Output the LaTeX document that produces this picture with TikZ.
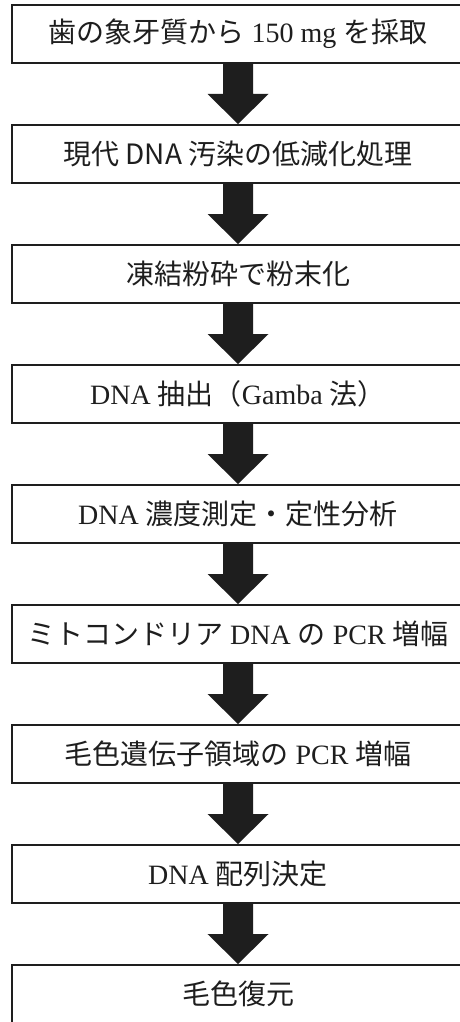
\documentclass[tikz,border=0pt]{standalone}
\usepackage{fontspec}
\setmainfont{Liberation Serif}
\newfontfamily\jp{Noto Sans CJK JP}
\usetikzlibrary{calc}
\definecolor{ink}{HTML}{1E1E1E}
\tikzset{
  stepbox/.style={draw=ink, line width=2pt, rectangle, minimum width=452pt, minimum height=58pt,
    inner sep=0pt, font=\fontsize{28}{34}\selectfont, text=ink},
  bigarrow/.style={fill=ink}
}
\newcommand\flowarrow[2]{%
  \fill[bigarrow] ($(#1.south)+(-15,0)$) -- ($(#1.south)+(15,0)$)
    -- ($($(#1.south)!0.5!(#2.north)$)+(15,0)$)
    -- ($($(#1.south)!0.5!(#2.north)$)+(30.5,0)$)
    -- (#2.north)
    -- ($($(#1.south)!0.5!(#2.north)$)+(-30.5,0)$)
    -- ($($(#1.south)!0.5!(#2.north)$)+(-15,0)$) -- cycle;}
\begin{document}
\begin{tikzpicture}[x=1pt,y=-1pt]
\useasboundingbox (0,0) rectangle (460,1022);
\clip (0,0) rectangle (460,1022);
\fill[white] (0,0) rectangle (460,1022);
\node[stepbox] (b1) at (238,34) {{\jp 歯の象牙質から} 150 mg {\jp を採取}};
\node[stepbox] (b2) at (238,154) {\jp 現代 DNA 汚染の低減化処理};
\node[stepbox] (b3) at (238,274) {\jp 凍結粉砕で粉末化};
\node[stepbox] (b4) at (238,394) {DNA {\jp 抽出（}Gamba {\jp 法）}};
\node[stepbox] (b5) at (238,514) {DNA {\jp 濃度測定・定性分析}};
\node[stepbox] (b6) at (238,634) {{\jp ミトコンドリア} DNA {\jp の} PCR {\jp 増幅}};
\node[stepbox] (b7) at (238,754) {{\jp 毛色遺伝子領域の} PCR {\jp 増幅}};
\node[stepbox] (b8) at (238,874) {DNA {\jp 配列決定}};
\node[stepbox] (b9) at (238,994) {\jp 毛色復元};
\flowarrow{b1}{b2}
\flowarrow{b2}{b3}
\flowarrow{b3}{b4}
\flowarrow{b4}{b5}
\flowarrow{b5}{b6}
\flowarrow{b6}{b7}
\flowarrow{b7}{b8}
\flowarrow{b8}{b9}
\end{tikzpicture}
\end{document}
